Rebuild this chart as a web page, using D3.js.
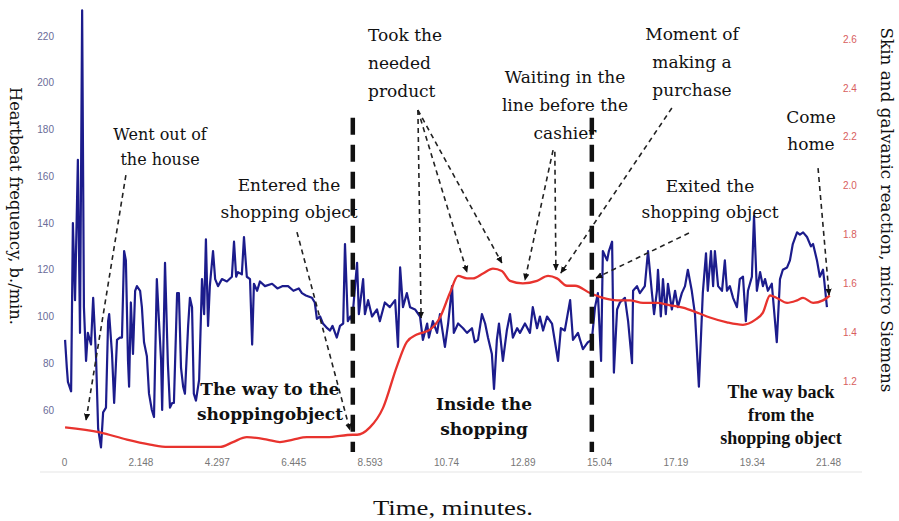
<!DOCTYPE html>
<html>
<head>
<meta charset="utf-8">
<script src="https://cdn.jsdelivr.net/npm/d3@7"></script>
<style>
  body { margin: 0; background: #fff; }
  .tick text { font-family: "Liberation Sans", Arial, sans-serif; font-size: 10px; }
  .note { font-family: "DejaVu Serif", serif; font-size: 17px; fill: #111; }
  .phase { font-family: "DejaVu Serif", serif; font-size: 17px; font-weight: bold; fill: #111; }
</style>
</head>
<body>
<div id="chart"></div>
<script>
// Axis ticks
var xTicks = [0, 2.148, 4.297, 6.445, 8.593, 10.74, 12.89, 15.04, 17.19, 19.34, 21.48];
var hrTicks = [60, 80, 100, 120, 140, 160, 180, 200, 220];
var gsrTicks = [1.2, 1.4, 1.6, 1.8, 2.0, 2.2, 2.4, 2.6];

// Heartbeat frequency, b./min (blue)
var hrTime = [0.03, 0.08, 0.11, 0.20, 0.25, 0.31, 0.39, 0.45, 0.51, 0.56, 0.62, 0.67, 0.76, 0.82, 0.90, 0.96, 1.04,
  1.10, 1.18, 1.24, 1.27, 1.35, 1.41, 1.49, 1.57, 1.63, 1.69, 1.74, 1.80, 1.83, 1.88, 1.94, 2.00, 2.05, 2.14,
  2.19, 2.25, 2.33, 2.39, 2.47, 2.53, 2.61, 2.67, 2.73, 2.76, 2.84, 2.92, 2.98, 3.04, 3.09, 3.18, 3.23, 3.29,
  3.35, 3.40, 3.49, 3.54, 3.60, 3.65, 3.71, 3.80, 3.88, 3.94, 3.99, 4.05, 4.10, 4.19, 4.25, 4.33, 4.44, 4.58,
  4.72, 4.78, 4.84, 4.89, 5.00, 5.06, 5.14, 5.23, 5.29, 5.34, 5.43, 5.51, 5.65, 5.85, 6.00, 6.15, 6.30, 6.45,
  6.60, 6.69, 6.80, 6.97, 7.05, 7.11, 7.20, 7.28, 7.40, 7.48, 7.55, 7.67, 7.76, 7.85, 7.90, 7.98, 8.05, 8.10,
  8.24, 8.29, 8.41, 8.46, 8.55, 8.66, 8.80, 8.88, 9.02, 9.16, 9.31, 9.39, 9.45, 9.53, 9.64, 9.73, 9.87, 10.01,
  10.09, 10.21, 10.26, 10.37, 10.49, 10.57, 10.71, 10.80, 10.91, 10.96, 11.08, 11.22, 11.33, 11.47, 11.55,
  11.64, 11.75, 11.84, 11.92, 12.03, 12.09, 12.17, 12.23, 12.34, 12.45, 12.54, 12.62, 12.74, 12.82, 12.96,
  13.10, 13.18, 13.30, 13.38, 13.47, 13.58, 13.72, 13.89, 13.97, 14.08, 14.23, 14.31, 14.45, 14.59, 14.73,
  14.84, 14.93, 15.01, 15.10, 15.15, 15.27, 15.32, 15.41, 15.46, 15.55, 15.63, 15.77, 15.86, 15.97, 16.00,
  16.11, 16.19, 16.33, 16.42, 16.53, 16.59, 16.67, 16.70, 16.78, 16.84, 16.92, 16.98, 17.09, 17.18, 17.26,
  17.37, 17.46, 17.54, 17.65, 17.74, 17.85, 17.96, 18.05, 18.10, 18.19, 18.25, 18.30, 18.39, 18.50, 18.58,
  18.64, 18.72, 18.81, 18.92, 19.00, 19.09, 19.17, 19.23, 19.34, 19.40, 19.48, 19.57, 19.65, 19.71, 19.79,
  19.90, 19.99, 20.04, 20.13, 20.21, 20.33, 20.41, 20.49, 20.61, 20.69, 20.78, 20.89, 21.00, 21.06, 21.17,
  21.25, 21.34, 21.37, 21.45];
var hrValue = [90, 78, 72, 68, 140, 107, 167, 93, 231, 104, 81, 93, 88, 108, 83, 52, 44,
  59, 61, 98, 101, 84, 63, 90, 91, 91, 128, 124, 81, 70, 106, 84, 111, 113, 111,
  104, 89, 83, 67, 60, 57, 116, 98, 81, 60, 123, 80, 61, 63, 63, 110, 110, 78,
  70, 67, 96, 108, 104, 67, 64, 73, 116, 101, 133, 96, 113, 128, 116, 113, 116, 115,
  117, 132, 117, 119, 118, 134, 117, 116, 88, 114, 111, 115, 113, 114, 112, 113, 113, 111,
  112, 110, 109, 108, 106, 99, 100, 97, 95, 94, 96, 91, 96, 97, 131, 98, 100, 98,
  123, 101, 116, 101, 107, 100, 103, 98, 106, 104, 107, 87, 121, 104, 110, 104, 103, 100,
  90, 97, 91, 98, 93, 101, 87, 97, 113, 93, 97, 95, 93, 95, 89,
  90, 101, 97, 91, 84, 69, 90, 97, 81, 94, 101, 91, 95, 93, 97,
  93, 104, 95, 100, 94, 100, 97, 81, 95, 94, 107, 90, 93, 86, 89,
  90, 104, 110, 81, 128, 124, 128, 132, 76, 103, 106, 108, 98, 80, 111,
  113, 110, 113, 128, 110, 101, 111, 120, 100, 116, 101, 114, 103, 111, 104,
  110, 113, 120, 111, 101, 70, 110, 127, 111, 128, 113, 128, 113, 111, 124,
  111, 113, 108, 104, 116, 117, 98, 111, 117, 143, 111, 119, 113, 116, 111,
  114, 98, 89, 116, 120, 121, 124, 131, 136, 135, 136, 134, 130, 131, 124,
  117, 120, 116, 104];

// Skin and galvanic reaction, micro Siemens (red)
var gsrTime = [0.03, 1.01, 1.77, 2.42, 2.92, 3.26, 4.02, 4.39, 4.75, 5.14, 5.71, 6.07, 6.44, 6.83, 7.39, 8.12,
  8.24, 8.60, 8.97, 9.36, 9.64, 9.92, 10.29, 10.57, 10.85, 11.08, 11.33, 11.50, 11.78, 12.06, 12.31, 12.54,
  12.90, 13.30, 13.61, 13.86, 14.14, 14.37, 14.79, 15.15, 15.55, 15.91, 16.28, 16.67, 17.04, 17.40, 17.80,
  18.16, 18.64, 19.09, 19.43, 19.65, 19.85, 20.04, 20.33, 20.61, 20.78, 21.06, 21.34, 21.53];
var gsrValue = [1.01, 0.99, 0.96, 0.94, 0.93, 0.93, 0.93, 0.93, 0.95, 0.97, 0.96, 0.95, 0.96, 0.97, 0.97, 0.98,
  0.98, 1.01, 1.09, 1.26, 1.36, 1.39, 1.41, 1.46, 1.56, 1.63, 1.62, 1.62, 1.64, 1.66, 1.65, 1.61,
  1.60, 1.61, 1.63, 1.62, 1.59, 1.59, 1.56, 1.54, 1.53, 1.53, 1.52, 1.52, 1.51, 1.50, 1.48,
  1.46, 1.44, 1.43, 1.45, 1.48, 1.55, 1.54, 1.52, 1.53, 1.54, 1.52, 1.53, 1.55];

// moments where he entered / exited the shop (minutes)
var phaseBorders = [8.12, 14.84];

// SVG dimensions
var svgWidth = 899;
var svgHeight = 521;
var margin = { top: 36, right: 71, bottom: 111, left: 64 };
var chartWidth = svgWidth - margin.left - margin.right;
var chartHeight = svgHeight - margin.top - margin.bottom;

var svg = d3.select("#chart")
  .append("svg")
  .attr("width", svgWidth)
  .attr("height", svgHeight)
  .style("display", "block");

var chartGroup = svg.append("g")
  .attr("transform", `translate(${margin.left}, ${margin.top})`);

// Scales
var xScale = d3.scaleLinear().domain([0, 21.48]).range([0, chartWidth]);
var yHr = d3.scaleLinear().domain([60, 220]).range([chartHeight, 0]);
var yGsr = d3.scaleLinear().domain([1.2, 2.6]).range([chartHeight - 29, 3]);

// bottom grey line
chartGroup.append("line")
  .attr("x1", -24).attr("x2", chartWidth + 34)
  .attr("y1", chartHeight + 62).attr("y2", chartHeight + 62)
  .attr("stroke", "#e6e6e6").attr("stroke-width", 1.2);

// Axes (labels only)
var bottomAxis = d3.axisBottom(xScale).tickValues(xTicks).tickSize(0).tickPadding(7)
  .tickFormat(function(d) { return String(d); });
var leftAxis = d3.axisLeft(yHr).tickValues(hrTicks).tickSize(0).tickPadding(3);
var rightAxis = d3.axisRight(yGsr).tickValues(gsrTicks).tickSize(0).tickPadding(3)
  .tickFormat(d3.format(".1f"));

var gx = chartGroup.append("g")
  .attr("transform", `translate(0, ${chartHeight + 42})`)
  .call(bottomAxis);
gx.select(".domain").remove();
gx.selectAll("text").attr("fill", "#777");

var gl = chartGroup.append("g")
  .attr("transform", "translate(-7, 0)")
  .call(leftAxis);
gl.select(".domain").remove();
gl.selectAll("text").attr("fill", "#6a6c98");

var gr = chartGroup.append("g")
  .attr("transform", `translate(${chartWidth + 12}, 0)`)
  .call(rightAxis);
gr.select(".domain").remove();
gr.selectAll("text").attr("fill", "#d85e5e");

// Lines
var hrData = hrTime.map(function(t, i) { return { t: t, v: hrValue[i] }; });
var gsrData = gsrTime.map(function(t, i) { return { t: t, v: gsrValue[i] }; });

var hrLine = d3.line().x(d => xScale(d.t)).y(d => yHr(d.v));
var gsrLine = d3.line().x(d => xScale(d.t)).y(d => yGsr(d.v)).curve(d3.curveMonotoneX);

chartGroup.append("path")
  .datum(hrData)
  .attr("d", hrLine)
  .attr("fill", "none")
  .attr("stroke", "#1c1c8c")
  .attr("stroke-width", 2.2)
  .attr("stroke-linejoin", "round");

chartGroup.append("path")
  .datum(gsrData)
  .attr("d", gsrLine)
  .attr("fill", "none")
  .attr("stroke", "#e8332e")
  .attr("stroke-width", 2.3);

// thick dashed phase borders
chartGroup.selectAll(".border").data(phaseBorders).enter()
  .append("line")
  .attr("class", "border")
  .attr("x1", d => xScale(d)).attr("x2", d => xScale(d))
  .attr("y1", yHr(185)).attr("y2", yHr(42))
  .attr("stroke", "#111")
  .attr("stroke-width", 4.5)
  .attr("stroke-dasharray", "17,10");

// arrow marker
svg.append("defs").append("marker")
  .attr("id", "arrow")
  .attr("viewBox", "0 0 10 10")
  .attr("refX", 9).attr("refY", 5)
  .attr("markerWidth", 7).attr("markerHeight", 7)
  .attr("markerUnits", "userSpaceOnUse")
  .attr("orient", "auto")
  .append("path")
  .attr("d", "M0,0.5 L10,5 L0,9.5 z")
  .attr("fill", "#111");

// annotation arrows, in (minutes, b./min) coordinates
var arrows = [
  [1.74, 160.5, 0.62, 55.7],
  [6.55, 136.1, 8.04, 51.4],
  [9.95, 188.3, 10.04, 99.4],
  [9.95, 188.3, 11.33, 119.0],
  [9.95, 188.3, 12.31, 122.9],
  [13.75, 171.2, 12.96, 115.6],
  [13.80, 170.5, 13.83, 119.9],
  [17.09, 189.2, 13.97, 118.6],
  [17.57, 135.7, 14.96, 116.5],
  [21.20, 163.5, 21.51, 109.2]
];
chartGroup.selectAll(".arrow").data(arrows).enter()
  .append("line")
  .attr("class", "arrow")
  .attr("x1", d => xScale(d[0])).attr("y1", d => yHr(d[1]))
  .attr("x2", d => xScale(d[2])).attr("y2", d => yHr(d[3]))
  .attr("stroke", "#222")
  .attr("stroke-width", 1.6)
  .attr("stroke-dasharray", "5,4")
  .attr("marker-end", "url(#arrow)");

// text notes (page coordinates)
var notes = [
  { lines: ["Went out of", "the house"], x: 160, y: 140, gap: 25, size: 16 },
  { lines: ["Entered the", "shopping object"], x: 289, y: 191, gap: 27 },
  { lines: ["Took the", "needed", "product"], x: 368, y: 41, gap: 28, anchor: "start" },
  { lines: ["Waiting in the", "line before the", "cashier"], x: 565, y: 83, gap: 28 },
  { lines: ["Moment of", "making a", "purchase"], x: 692, y: 40, gap: 28 },
  { lines: ["Come", "home"], x: 811, y: 123, gap: 27 },
  { lines: ["Exited the", "shopping object"], x: 710, y: 192, gap: 26 }
];
notes.forEach(function(n) {
  var t = svg.append("text")
    .attr("class", "note")
    .attr("text-anchor", n.anchor || "middle")
    .style("font-size", (n.size || 17) + "px");
  n.lines.forEach(function(line, i) {
    t.append("tspan").attr("x", n.x).attr("y", n.y + i * n.gap).text(line);
  });
});

// phase labels
var phases = [
  { lines: ["The way to the", "shoppingobject"], x: 270, y: 395, gap: 25 },
  { lines: ["Inside the", "shopping"], x: 484, y: 410, gap: 25 },
  { lines: ["The way back", "from the", "shopping object"], x: 781, y: 398, gap: 23, narrow: true }
];
phases.forEach(function(p) {
  p.lines.forEach(function(line, i) {
    var t = svg.append("text")
      .attr("class", "phase")
      .attr("text-anchor", "middle")
      .attr("x", p.x)
      .attr("y", p.y + i * p.gap)
      .text(line);
    if (p.narrow) {
      t.style("font-family", "'Liberation Serif', 'Times New Roman', serif")
        .style("font-size", "18px");
    }
  });
});

// axis titles
svg.append("text")
  .attr("transform", "translate(10, 206) rotate(90)")
  .attr("text-anchor", "middle")
  .attr("textLength", 238)
  .attr("lengthAdjust", "spacingAndGlyphs")
  .style("font-family", "'DejaVu Serif', serif")
  .style("font-size", "17px")
  .style("fill", "#111")
  .text("Heartbeat frequency, b./min.");

svg.append("text")
  .attr("transform", "translate(881, 210) rotate(90)")
  .attr("text-anchor", "middle")
  .attr("textLength", 365)
  .attr("lengthAdjust", "spacingAndGlyphs")
  .style("font-family", "'DejaVu Serif', serif")
  .style("font-size", "17px")
  .style("fill", "#111")
  .text("Skin and galvanic reaction, micro Siemens");

svg.append("text")
  .attr("x", 453)
  .attr("y", 515)
  .attr("text-anchor", "middle")
  .attr("textLength", 160)
  .attr("lengthAdjust", "spacingAndGlyphs")
  .style("font-family", "'Liberation Serif', 'Times New Roman', serif")
  .style("font-size", "21px")
  .style("fill", "#111")
  .text("Time, minutes.");
</script>
</body>
</html>
